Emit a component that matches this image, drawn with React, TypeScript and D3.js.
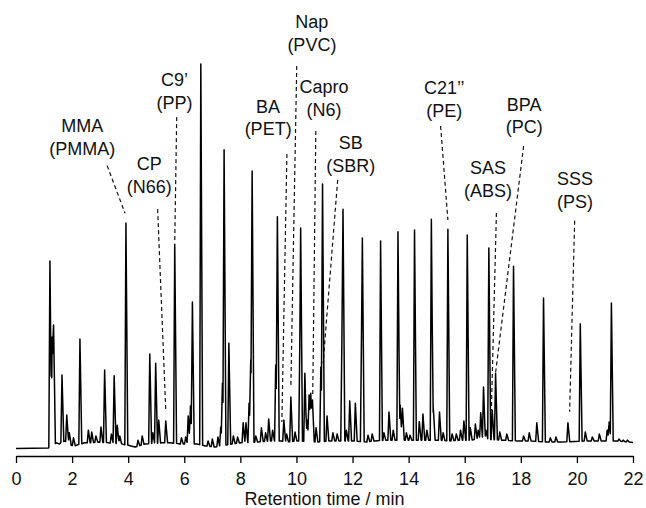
import React, { useEffect, useRef } from "react";
import * as d3 from "d3";

// peak apex positions (min) and heights (relative signal, tallest = 100)
const peakTimes = [
  1.21, 1.29, 1.34, 1.64, 1.81, 1.9, 2.05, 2.28, 2.58, 2.7, 2.85, 3.03, 3.16, 3.4, 3.5, 3.61, 3.7,
  3.92, 4.35, 4.5, 4.77, 4.88, 4.98, 5.09, 5.34, 5.66, 5.9, 6.05, 6.14, 6.22, 6.29, 6.59, 6.85,
  7.0, 7.2, 7.3, 7.36, 7.42, 7.59, 7.75, 7.9, 8.1, 8.2, 8.31, 8.37, 8.42, 8.55, 8.75, 8.9, 9.01,
  9.15, 9.26, 9.32, 9.55, 9.65, 9.8, 9.95, 10.12, 10.15, 10.3, 10.38, 10.45, 10.51, 10.57, 10.7,
  10.87, 10.93, 11.09, 11.3, 11.45, 11.62, 11.66, 11.78, 11.9, 12.1, 12.32, 12.35, 12.55, 12.7,
  13.0, 13.12, 13.3, 13.45, 13.62, 13.7, 13.78, 13.92, 14.05, 14.21, 14.38, 14.51, 14.65, 14.81,
  14.88, 15.1, 15.23, 15.4, 15.55, 15.7, 15.85, 15.97, 16.09, 16.2, 16.38, 16.48, 16.57, 16.67,
  16.76, 16.86, 16.98, 17.1, 17.25, 17.5, 17.74, 18.1, 18.3, 18.57, 18.81, 19.05, 19.25, 19.68,
  20.12, 20.3, 20.55, 20.8, 21.08, 21.15, 21.23, 21.5, 21.65, 21.8,
];
const peakHeights = [
  48.8, 29.1, 32.2, 19.2, 8.8, 4.2, 2.9, 28.6, 4.9, 4.4, 3.4, 5.7, 20.5, 3.9, 19.0, 6.2, 3.4,
  58.7, 2.3, 3.4, 24.7, 4.2, 22.3, 7.5, 7.3, 53.2, 2.9, 3.1, 8.6, 11.2, 38.2, 100, 2.1,
  2.6, 3.1, 5.7, 17.1, 77.7, 27.5, 3.4, 3.1, 6.8, 6.8, 11.9, 23.1, 72.2, 3.4, 5.5, 4.2, 7.8,
  4.9, 21.8, 60.3, 7.5, 3.9, 13.5, 4.4, 27.5, 57.4, 19.7, 7.5, 14.0, 14.5, 12.7, 5.5,
  21.3, 68.8, 8.6, 4.2, 3.9, 28.3, 62.3, 4.9, 12.5, 11.9, 30.1, 54.8, 3.6, 3.9,
  54.0, 4.2, 9.6, 4.9, 56.4, 11.4, 10.6, 4.2, 3.6, 56.9, 7.1, 9.1, 4.9, 59.7,
  10.6, 9.6, 4.2, 57.1, 3.9, 3.9, 4.9, 7.3, 55.6, 5.5, 6.5, 4.9, 9.4, 16.1,
  4.9, 52.2, 10.1, 19.7, 4.4, 3.9, 47.5, 3.4, 4.2, 6.8, 39.2, 2.9, 3.1, 6.8,
  32.5, 4.4, 3.1, 3.9, 4.9, 7.0, 37.9, 2.6, 2.3, 2.3,
];

// baseline level between peaks
const baseTimes = [
  0, 1.15, 1.45, 1.55, 1.75, 1.95, 2.1, 2.45, 2.65, 2.95, 3.3, 3.75, 4.1, 4.25, 4.6, 5.2, 5.5,
  5.85, 6.45, 6.75, 7.1, 7.7, 8.0, 8.6, 9.1, 9.45, 9.7, 10.0, 10.75, 11.2, 11.5, 12.0, 12.5,
  12.8, 13.2, 13.5, 14.0, 14.6, 15.0, 15.5, 15.8, 16.2, 16.5, 17.3, 17.9, 18.3, 18.95, 19.4,
  20.4, 20.9, 21.4, 22.0,
];
const baseLevels = [
  0.1, 0.25, 1.6, 1.3, 2.1, 1.0, 0.8, 1.6, 1.6, 1.8, 1.6, 1.3, 0.8, 0.5, 1.3, 1.6, 1.6,
  1.3, 1.3, 0.8, 0.5, 1.3, 1.6, 1.8, 2.1, 2.1, 1.8, 2.1, 1.8, 2.1, 2.1, 2.1, 1.8,
  2.1, 2.3, 2.3, 2.3, 2.3, 2.3, 2.1, 2.3, 2.3, 2.6, 2.3, 2.1, 2.1, 1.8, 1.8,
  2.1, 2.1, 2.1, 1.7,
];

const tickValues = [0, 2, 4, 6, 8, 10, 12, 14, 16, 18, 20, 22];

// compound (polymer) labels: text anchor and dashed leader, in data units
const labels = [
  { name: "MMA", polymer: "(PMMA)", t: 2.36, v: 82.3, from: [3.25, 73.6], to: [3.89, 61.2] },
  { name: "CP", polymer: "(N66)", t: 4.75, v: 72.5, from: [5.05, 62.3], to: [5.34, 10.1] },
  { name: "C9\u2019", polymer: "(PP)", t: 5.65, v: 94.3, from: [5.73, 86.2], to: [5.66, 53.6] },
  { name: "BA", polymer: "(PET)", t: 8.99, v: 87.4, from: [9.66, 76.6], to: [9.48, 7.0] },
  { name: "Nap", polymer: "(PVC)", t: 10.55, v: 109.3, from: [10.01, 99.5], to: [9.8, 16.1] },
  { name: "Capro", polymer: "(N6)", t: 10.98, v: 92.5, from: [10.69, 82.6], to: [10.58, 13.5] },
  { name: "SB", polymer: "(SBR)", t: 11.94, v: 77.8, from: [11.47, 69.9], to: [10.95, 22.3] },
  { name: "C21\u2019\u2019", polymer: "(PE)", t: 15.27, v: 92.2, from: [15.14, 83.9], to: [15.4, 59.5] },
  { name: "SAS", polymer: "(ABS)", t: 16.83, v: 71.4, from: [17.13, 61.3], to: [16.95, 10.0] },
  { name: "BPA", polymer: "(PC)", t: 18.12, v: 87.9, from: [18.1, 78.7], to: [17.1, 19.8] },
  { name: "SSS", polymer: "(PS)", t: 19.93, v: 68.6, from: [19.92, 59.3], to: [19.74, 9.7] },
];

const FONT = "Arial, 'Liberation Sans', sans-serif";

const App = () => {
  const svgRef = useRef(null);

  useEffect(() => {
    if (svgRef.current) drawChart();
  }, []);

  const drawChart = () => {
    const svg = d3.select(svgRef.current);
    svg.selectAll("*").remove();

    const x = d3.scaleLinear().domain([0, 22]).range([16, 633]);
    const y = d3.scaleLinear().domain([0, 100]).range([449, 64]);
    const base = d3.scaleLinear().domain(baseTimes).range(baseLevels).clamp(true);

    // narrow peak flanks (min)
    const wl = 0.04;
    const wr = 0.065;

    const signal = (t) => {
      let v = base(t);
      peakTimes.forEach((tk, i) => {
        const d = t < tk ? (tk - t) / wl : (t - tk) / wr;
        if (d < 1) {
          const b = base(tk);
          v = Math.max(v, b + (peakHeights[i] - b) * (1 - d));
        }
      });
      return v;
    };

    const keys = new Set(baseTimes);
    peakTimes.forEach((tk) => {
      keys.add(+(tk - wl).toFixed(4));
      keys.add(tk);
      keys.add(+(tk + wr).toFixed(4));
    });
    const trace = Array.from(keys)
      .filter((t) => t >= 0 && t <= 22)
      .sort((a, b) => a - b)
      .map((t) => [t, signal(t)]);

    const line = d3
      .line()
      .x((d) => x(d[0]))
      .y((d) => y(d[1]));

    // leader lines first so trace sits on top
    svg
      .append("g")
      .selectAll("line")
      .data(labels)
      .enter()
      .append("line")
      .attr("x1", (d) => x(d.from[0]))
      .attr("y1", (d) => y(d.from[1]))
      .attr("x2", (d) => x(d.to[0]))
      .attr("y2", (d) => y(d.to[1]))
      .attr("stroke", "#111")
      .attr("stroke-width", 1.2)
      .attr("stroke-dasharray", "4,3");

    svg
      .append("path")
      .datum(trace)
      .attr("d", line)
      .attr("fill", "none")
      .attr("stroke", "#000")
      .attr("stroke-width", 1.5)
      .attr("stroke-linejoin", "round");

    const txt = svg
      .append("g")
      .attr("font-family", FONT)
      .attr("font-size", 18)
      .attr("fill", "#111")
      .attr("text-anchor", "middle")
      .selectAll("text")
      .data(labels)
      .enter()
      .append("text")
      .attr("x", (d) => x(d.t))
      .attr("y", (d) => y(d.v));
    txt.append("tspan").text((d) => d.name);
    txt
      .append("tspan")
      .attr("x", (d) => x(d.t))
      .attr("dy", "1.26em")
      .text((d) => d.polymer);

    // x axis
    const xAxis = d3
      .axisBottom(x)
      .tickValues(tickValues)
      .tickSize(7)
      .tickSizeOuter(0)
      .tickPadding(9)
      .tickFormat(d3.format("d"));

    const gx = svg.append("g").attr("transform", "translate(0, 456)").call(xAxis);
    gx.attr("font-family", FONT).attr("font-size", 18);
    gx.select(".domain").attr("stroke", "#000").attr("stroke-width", 1.3);
    gx.selectAll(".tick line").attr("stroke", "#000").attr("stroke-width", 1.3);
    gx.selectAll(".tick text").attr("fill", "#111");

    svg
      .append("text")
      .attr("x", x(11))
      .attr("y", 505)
      .attr("text-anchor", "middle")
      .attr("font-family", FONT)
      .attr("font-size", 18)
      .attr("fill", "#111")
      .text("Retention time / min");
  };

  return (
    <svg
      ref={svgRef}
      width={646}
      height={508}
      style={{ position: "absolute", left: 0, top: 0, background: "#fff" }}
    />
  );
};

export default App;
